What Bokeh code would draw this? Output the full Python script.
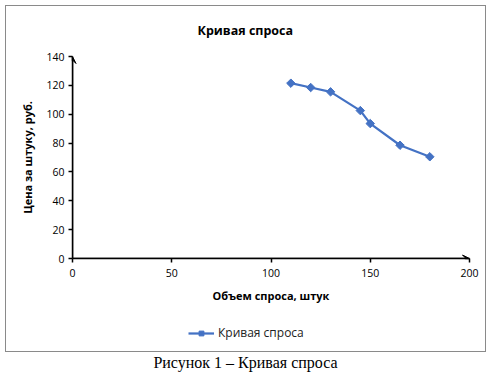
import math
from bokeh.plotting import figure
from bokeh.models import (Arrow, VeeHead, Legend, LegendItem, Div, Range1d,
                          FixedTicker, Title)
from bokeh.layouts import column
from bokeh.embed import file_html
from bokeh.resources import INLINE

# ---- data ----
quantity = [110, 120, 130, 145, 150, 165, 180]
price = [121.5, 118.5, 115.5, 102.5, 93.5, 78.5, 70.5]
x_ticks = [0, 50, 100, 150, 200]
y_ticks = [0, 20, 40, 60, 80, 100, 120, 140]
chart_title = "Кривая спроса"
series_name = "Кривая спроса"
x_label = "Объем спроса, штук"
y_label = "Цена за штуку, руб."
caption = "Рисунок 1 – Кривая спроса"

FONT = "Open Sans"
BLUE = "#4472C4"
BORDER = "1px solid #8a8a8a"

x_min, x_max = x_ticks[0], x_ticks[-1]
y_min, y_max = y_ticks[0], y_ticks[-1]

# ---- main chart ----
p = figure(width=481, height=311, output_backend="svg", toolbar_location=None,
           x_range=Range1d(x_min, x_max), y_range=Range1d(y_min, y_max),
           min_border_left=66, min_border_right=18, min_border_top=49,
           min_border_bottom=59,
           title=Title(text=chart_title, align="left", offset=125, standoff=31,
                       vertical_align="top",
                       text_font=FONT, text_font_size="12.5px",
                       text_font_style="bold", text_color="black"))
p.styles = {"border-top": BORDER, "border-left": BORDER, "border-right": BORDER,
            "box-sizing": "border-box"}
p.outline_line_color = None
p.xgrid.grid_line_color = None
p.ygrid.grid_line_color = None
p.background_fill_color = "white"
p.border_fill_color = "white"

for ax in (p.xaxis[0], p.yaxis[0]):
    ax.axis_line_color = "black"
    ax.axis_line_width = 1.5
    ax.major_tick_line_color = "black"
    ax.major_tick_line_width = 1.5
    ax.major_tick_in = 0
    ax.major_tick_out = 4
    ax.minor_tick_line_color = None
    ax.major_label_text_font = FONT
    ax.major_label_text_font_size = "10.5px"
    ax.major_label_text_color = "black"
    ax.axis_label_text_font = FONT
    ax.axis_label_text_font_size = "11px"
    ax.axis_label_text_font_style = "bold"
    ax.axis_label_text_color = "black"

p.xaxis.ticker = FixedTicker(ticks=x_ticks)
p.yaxis.ticker = FixedTicker(ticks=y_ticks)
p.xaxis.axis_label = x_label
p.yaxis.axis_label = y_label
p.xaxis.major_label_standoff = 6
p.xaxis.axis_label_standoff = 8
p.yaxis.major_label_standoff = 4
p.yaxis.axis_label_standoff = 8

# axis arrowheads
p.add_layout(Arrow(end=VeeHead(size=7, fill_color="black", line_color="black", line_width=1),
                   x_start=x_min, y_start=y_min, x_end=x_min, y_end=y_max,
                   line_color="black", line_width=1.5))
p.add_layout(Arrow(end=VeeHead(size=7, fill_color="black", line_color="black", line_width=1),
                   x_start=x_min, y_start=y_min, x_end=x_max, y_end=y_min,
                   line_color="black", line_width=1.5))

line_style = dict(line_color=BLUE, line_width=2.25)
mark_style = dict(marker="square", size=6, angle=math.pi / 4,
                  fill_color=BLUE, line_color=BLUE, line_width=1)

p.line(quantity, price, **line_style)
p.scatter(quantity, price, **mark_style)

# ---- legend strip (inside the same bordered box) ----
pl = figure(width=481, height=36, output_backend="svg", toolbar_location=None,
            x_axis_type=None, y_axis_type=None,
            x_range=Range1d(x_min, x_max), y_range=Range1d(y_min, y_max),
            min_border_left=0, min_border_right=0, min_border_top=0,
            min_border_bottom=0)
pl.styles = {"border-bottom": BORDER, "border-left": BORDER, "border-right": BORDER,
             "box-sizing": "border-box"}
pl.outline_line_color = None
pl.xgrid.grid_line_color = None
pl.ygrid.grid_line_color = None
# series glyphs used only as the legend key (hidden in this strip)
lr_line = pl.line(quantity, price, visible=False, **line_style)
lr_mark = pl.scatter(quantity, price, visible=False, **mark_style)

legend = Legend(items=[LegendItem(label=series_name, renderers=[lr_line, lr_mark])],
                location=(116, 11), orientation="horizontal",
                border_line_color=None, background_fill_alpha=0,
                inactive_fill_alpha=0,
                label_text_font=FONT, label_text_font_size="12px",
                label_text_color="#222222", glyph_width=26, glyph_height=12,
                label_standoff=4, padding=0, margin=0)
pl.add_layout(legend, "center")

cap = Div(text=caption, width=481, height=22, margin=0,
          styles={"text-align": "center", "font-family": "Liberation Serif",
                  "font-size": "16px", "line-height": "22px", "color": "black"})

layout = column(p, pl, cap, spacing=0, styles={"margin-left": "5px", "margin-top": "5px"})

open("out.html", "w").write(file_html(layout, INLINE))
